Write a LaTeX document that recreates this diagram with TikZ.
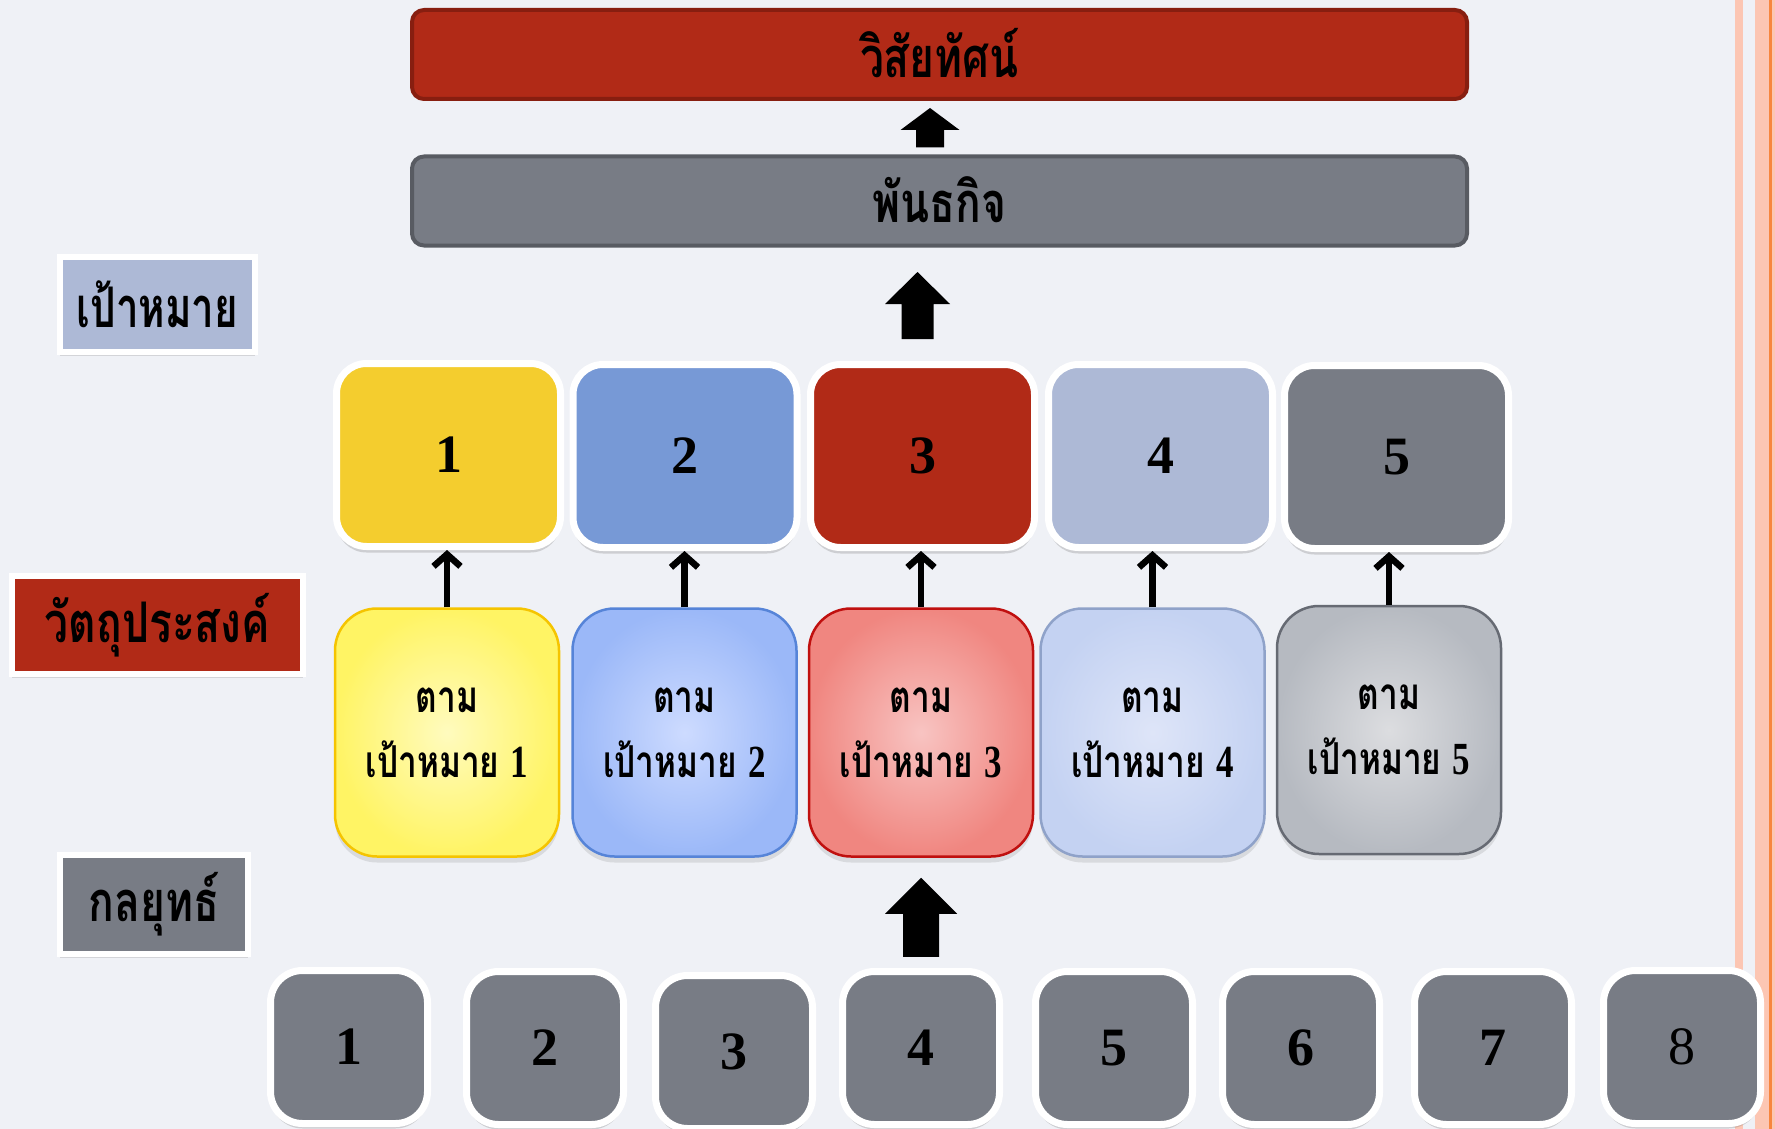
\documentclass[tikz,border=0pt]{standalone}
\usepackage{graphicx}
\usepackage{fontspec}
\setmainfont{Liberation Serif}
\newfontfamily\thaifont[Script=Thai]{Loma}
\newfontfamily\numfont{Liberation Serif}
\usetikzlibrary{shadows,arrows.meta,calc}
\definecolor{bg}{RGB}{239,241,246}
\definecolor{vred}{RGB}{177,42,23}
\definecolor{vredd}{RGB}{135,30,16}
\definecolor{gry}{RGB}{120,124,133}
\definecolor{gryd}{RGB}{88,91,98}
\definecolor{gyellow}{RGB}{244,205,46}
\definecolor{gblue}{RGB}{119,153,214}
\definecolor{glblue}{RGB}{173,185,214}
\definecolor{stripe}{RGB}{252,198,179}
\definecolor{stripeline}{RGB}{247,134,62}
\newcommand{\thaiL}{\thaifont\bfseries\fontsize{56}{64}\selectfont}
\newcommand{\thaiO}{\thaifont\bfseries\fontsize{44}{65}\selectfont}
\newcommand{\numL}{\numfont\bfseries\fontsize{54}{60}\selectfont}
\newcommand{\numO}{\numfont\bfseries\fontsize{46}{65}\selectfont}
\newcommand{\cx}[1]{\scalebox{0.76}[1]{#1}}
\begin{document}
\begin{tikzpicture}[x=1pt,y=-1pt,
  widebox/.style={rectangle, rounded corners=12pt, line width=4pt,
    minimum width=1055pt, minimum height=89pt, inner sep=0pt, text=black},
  goalbox/.style={rectangle, rounded corners=30pt, draw=white, line width=7pt,
    minimum width=224pt, minimum height=183pt, inner sep=0pt,
    drop shadow={opacity=0.3, shadow xshift=0pt, shadow yshift=-6pt}},
  objbox/.style={rectangle, rounded corners=42pt, line width=2.5pt,
    minimum width=224pt, minimum height=248pt, inner sep=0pt, align=center,
    font=\thaiO,
    drop shadow={opacity=0.2, shadow xshift=0pt, shadow yshift=-6pt}},
  stratbox/.style={rectangle, rounded corners=32pt, draw=white, line width=7pt,
    fill=gry, minimum width=157pt, minimum height=153pt, inner sep=0pt,
    drop shadow={opacity=0.3, shadow xshift=0pt, shadow yshift=-5pt}},
  labelbox/.style={rectangle, draw=white, line width=6pt, inner sep=0pt,
    drop shadow={opacity=0.25, shadow xshift=0pt, shadow yshift=-4pt}},
  smallarr/.style={line width=6.5pt, -{Straight Barb[length=12pt,width=27pt]}},
  blockarr/.style={fill=black}
]
\useasboundingbox (0,0) rectangle (1775,1129);
\fill[bg] (0,0) rectangle (1775,1129);
% right stripes
\fill[stripe] (1735,0) rectangle (1743,1129);
\fill[stripe] (1755,0) rectangle (1775,1129);
\fill[stripeline] (1769,0) rectangle (1771.5,1129);

% vision and mission
\node[widebox, fill=vred, draw=vredd] (vis) at (939.5,54.5) {\raisebox{3pt}{\thaiL\cx{วิสัยทัศน์}}};
\node[widebox, fill=gry, draw=gryd] (mis) at (939.5,201) {\raisebox{2pt}{\thaiL\cx{พันธกิจ}}};

% left labels
\node[labelbox, fill=glblue, minimum width=195pt, minimum height=95pt] (lgoal) at (157.5,304.5) {\thaiL\scalebox{0.72}[1]{เป้าหมาย}};
\node[labelbox, fill=vred, minimum width=291pt, minimum height=98pt] (lobj) at (157.5,625) {\thaiL\cx{วัตถุประสงค์}};
\node[labelbox, fill=gry, minimum width=188pt, minimum height=99pt] (lstr) at (154,904.5) {\thaiL\cx{กลยุทธ์}};

% goal boxes
\node[goalbox, fill=gyellow] (g1) at (448.5,455) {\numL 1};
\node[goalbox, fill=gblue] (g2) at (685,456) {\numL 2};
\node[goalbox, fill=vred] (g3) at (922.5,456) {\numL 3};
\node[goalbox, fill=glblue] (g4) at (1160.5,456) {\numL 4};
\node[goalbox, fill=gry] (g5) at (1396.5,457) {\numL 5};

% objective boxes
\node[objbox, draw={rgb,255:red,245;green,196;blue,0}, inner color={rgb,255:red,255;green,251;blue,190}, outer color={rgb,255:red,255;green,244;blue,100}] (o1) at (447,732.5)
  {\cx{ตาม}\\\cx{เป้าหมาย {\numO 1}}};
\node[objbox, draw={rgb,255:red,86;green,132;blue,216}, inner color={rgb,255:red,205;green,219;blue,255}, outer color={rgb,255:red,155;green,184;blue,248}] (o2) at (684.5,732.5)
  {\cx{ตาม}\\\cx{เป้าหมาย {\numO 2}}};
\node[objbox, draw={rgb,255:red,192;green,16;blue,15}, inner color={rgb,255:red,248;green,196;blue,194}, outer color={rgb,255:red,240;green,134;blue,128}] (o3) at (921,732.5)
  {\cx{ตาม}\\\cx{เป้าหมาย {\numO 3}}};
\node[objbox, draw={rgb,255:red,143;green,162;blue,201}, inner color={rgb,255:red,222;green,229;blue,248}, outer color={rgb,255:red,196;green,210;blue,242}] (o4) at (1152.5,732.5)
  {\cx{ตาม}\\\cx{เป้าหมาย {\numO 4}}};
\node[objbox, draw={rgb,255:red,102;green,106;blue,115}, inner color={rgb,255:red,220;green,221;blue,224}, outer color={rgb,255:red,182;green,186;blue,193}] (o5) at (1389,730)
  {\cx{ตาม}\\\cx{เป้าหมาย {\numO 5}}};

% strategy boxes
\node[stratbox] (s1) at (349,1047) {\numL 1};
\node[stratbox] (s2) at (545,1048) {\numL 2};
\node[stratbox] (s3) at (734,1052) {\numL 3};
\node[stratbox] (s4) at (921,1048) {\numL 4};
\node[stratbox] (s5) at (1114,1048) {\numL 5};
\node[stratbox] (s6) at (1301,1048) {\numL 6};
\node[stratbox] (s7) at (1493,1048) {\numL 7};
\node[stratbox] (s8) at (1682,1047) {\numfont\fontsize{54}{60}\selectfont 8};

% small arrows objective -> goal
\foreach \i in {1,...,5}{
  \draw[smallarr] (o\i.north) -- (o\i.north |- g\i.south);
}

% block arrows
% mission -> vision
\coordinate (a1b) at ($(mis.north)+(-9.5,-7)$);
\coordinate (a1t) at ($(vis.south)+(-9.5,7)$);
\fill[blockarr] ($(a1b)+(-14,0)$) -- ($(a1t)+(-14,22)$) -- ($(a1t)+(-29.5,22)$) -- (a1t)
  -- ($(a1t)+(29.5,22)$) -- ($(a1t)+(14,22)$) -- ($(a1b)+(14,0)$) -- cycle;
% goals -> mission
\coordinate (a2b) at (917.5,339);
\coordinate (a2t) at (917.5,272);
\fill[blockarr] ($(a2b)+(-16,0)$) -- ($(a2t)+(-16,32)$) -- ($(a2t)+(-32.5,32)$) -- (a2t)
  -- ($(a2t)+(32.5,32)$) -- ($(a2t)+(16,32)$) -- ($(a2b)+(16,0)$) -- cycle;
% strategies -> objectives
\coordinate (a3b) at ($(o3.south)+(0,99)$);
\coordinate (a3t) at ($(o3.south)+(0,20)$);
\fill[blockarr] ($(a3b)+(-18,0)$) -- ($(a3t)+(-18,36)$) -- ($(a3t)+(-36,36)$) -- (a3t)
  -- ($(a3t)+(36,36)$) -- ($(a3t)+(18,36)$) -- ($(a3b)+(18,0)$) -- cycle;
\end{tikzpicture}
\end{document}
